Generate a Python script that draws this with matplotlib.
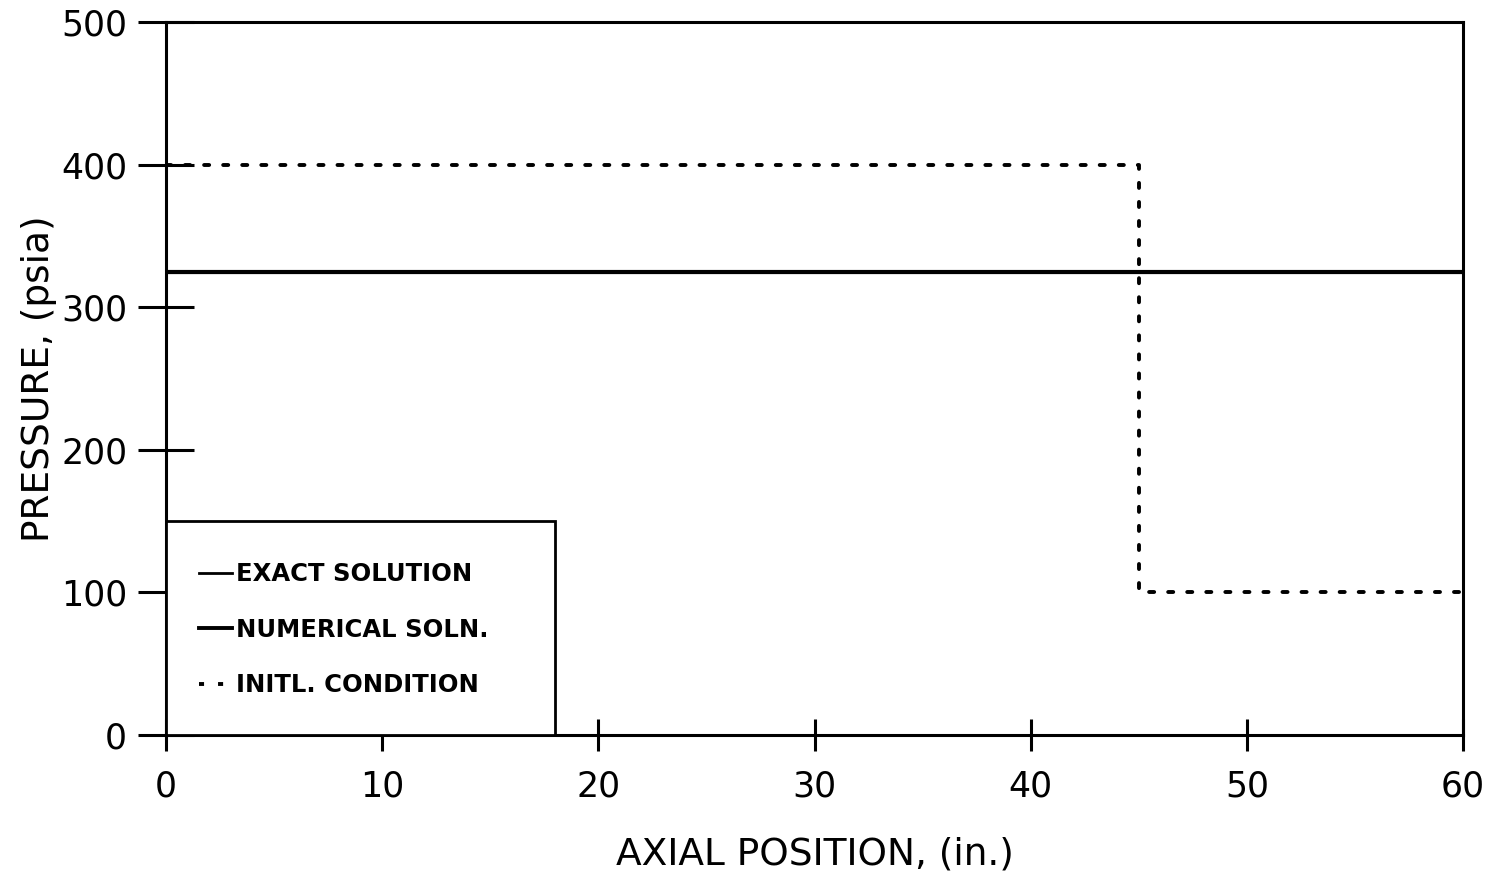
import matplotlib
matplotlib.use("Agg")
import matplotlib.pyplot as plt
from matplotlib.patches import Rectangle
from matplotlib.lines import Line2D

# Axial positions (in.) and pressures (psia)
exact_x = [0, 60]
exact_p = [325, 325]
numerical_x = [0, 60]
numerical_p = [325, 325]
initial_x = [0, 45, 45, 60]
initial_p = [400, 400, 100, 100]

x_ticks = [0, 10, 20, 30, 40, 50, 60]
y_ticks = [0, 100, 200, 300, 400, 500]
legend_labels = ["EXACT SOLUTION", "NUMERICAL SOLN.", "INITL. CONDITION"]

plt.rcParams["font.family"] = ["DejaVu Sans"]

fig = plt.figure(figsize=(14.92, 8.72), dpi=100)
ax = fig.add_axes([0.1113, 0.1571, 0.8693, 0.8177])

dot_style = (0, (1.3, 3.6))

ax.plot(exact_x, exact_p, color="black", lw=2.2, solid_capstyle="butt")
ax.plot(numerical_x, numerical_p, color="black", lw=3.0, solid_capstyle="butt")
ax.plot(initial_x, initial_p, color="black", lw=2.8,
        linestyle=dot_style, dash_capstyle="round")

ax.set_xlim(0, 60)
ax.set_ylim(0, 500)
ax.set_xticks(x_ticks)
ax.set_yticks(y_ticks)
ax.set_xticklabels([str(v) for v in x_ticks])
ax.set_yticklabels([str(v) for v in y_ticks])

for s in ax.spines.values():
    s.set_linewidth(2.2)

ax.tick_params(axis="y", direction="inout", length=40, width=2.2,
               labelsize=25, pad=8)
ax.tick_params(axis="x", direction="inout", length=23, width=2.2,
               labelsize=25, pad=13)

ax.set_xlabel("AXIAL POSITION, (in.)", fontsize=27, labelpad=24)
ax.set_ylabel("PRESSURE, (psia)", fontsize=27, labelpad=3)

# Legend box in the lower-left corner, covering the inner tick marks
ax.add_patch(Rectangle((0, 0), 0.3, 0.3, transform=ax.transAxes,
                       facecolor="white", edgecolor="black", lw=2.0, zorder=3))

handles = [
    Line2D([], [], color="black", lw=2.0),
    Line2D([], [], color="black", lw=2.8),
    Line2D([], [], color="black", lw=2.8, linestyle=dot_style),
]
leg = ax.legend(handles, legend_labels, loc="upper left",
                bbox_to_anchor=(0.018, 0.256), frameon=False,
                handlelength=1.35, handletextpad=0.15, labelspacing=1.3,
                prop={"size": 17.5, "weight": "bold"}, borderaxespad=0)
leg.set_zorder(4)

fig.savefig("out.png", dpi=100, facecolor="white")
